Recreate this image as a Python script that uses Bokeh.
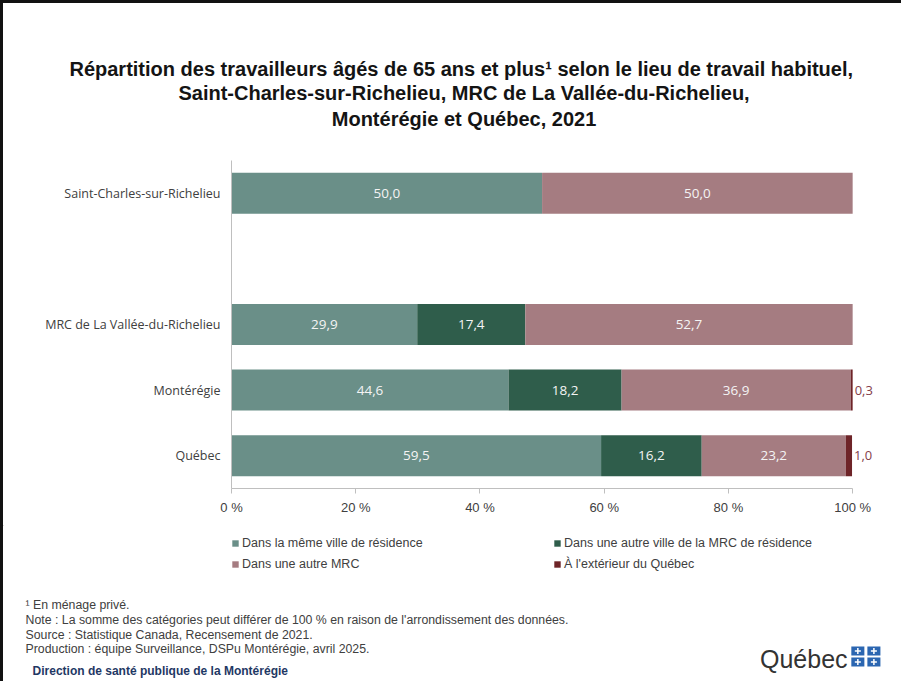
from bokeh.plotting import figure
from bokeh.models import (ColumnDataSource, FactorRange, Range1d, Label, Legend,
                          LegendItem, FixedTicker)
from bokeh.core.properties import value
from bokeh.embed import file_html
from bokeh.resources import INLINE

# ---------------- data ----------------
categories = ["Saint-Charles-sur-Richelieu", "MRC de La Vallée-du-Richelieu",
              "Montérégie", "Québec"]
spacer = " "
meme_ville = [50.0, 29.9, 44.6, 59.5]
autre_ville_mrc = [0.0, 17.4, 18.2, 16.2]
autre_mrc = [50.0, 52.7, 36.9, 23.2]
exterieur = [0.0, 0.0, 0.3, 1.0]
series_labels = ["Dans la même ville de résidence",
                 "Dans une autre ville de la MRC de résidence",
                 "Dans une autre MRC",
                 "À l'extérieur du Québec"]
x_ticks = [0, 20, 40, 60, 80, 100]
x_tick_labels = ["0 %", "20 %", "40 %", "60 %", "80 %", "100 %"]
title_lines = ["Répartition des travailleurs âgés de 65 ans et plus¹  selon le lieu de travail habituel,",
               "Saint-Charles-sur-Richelieu, MRC de La Vallée-du-Richelieu,",
               "Montérégie et Québec, 2021"]
notes = ["¹ En ménage privé.",
         "Note : La somme des catégories peut différer de 100 % en raison de l'arrondissement des données.",
         "Source : Statistique Canada, Recensement de 2021.",
         "Production : équipe Surveillance, DSPu Montérégie, avril 2025."]
direction = "Direction de santé publique de la Montérégie"
logo_text = "Québec"

# ---------------- styling ----------------
colors = ["#6a8f88", "#2f5d4b", "#a57c81", "#6e2428"]
series = [meme_ville, autre_ville_mrc, autre_mrc, exterieur]
keys = ["s0", "s1", "s2", "s3"]

W = 898
O = 3                                  # border width / page offset
TOP_END = 153                          # title band: page 3..153
FL, FR, FT, FB = 231, 849, 160, 488    # chart frame on the page (0..100 %)
X_VIEW_MAX = 104                       # room right of 100 % for outside labels
CHART_END = 525                        # chart band: page 153..525
PAGE_END = 681                         # notes band: page 525..681
BORDER = "3px solid #111"
frame_right = FL + (FR - FL) * X_VIEW_MAX / 100.0


def blank_fig(y0, y1):
    h = y1 - y0
    f = figure(width=W, height=h, x_range=Range1d(O, W + O), y_range=Range1d(y1, y0),
               output_backend="svg", toolbar_location=None, title=None,
               x_axis_location=None, y_axis_location=None,
               min_border=0, min_border_left=0, min_border_right=0,
               min_border_top=0, min_border_bottom=0)
    f.outline_line_color = None
    f.xgrid.visible = False
    f.ygrid.visible = False
    return f


# ---------------- title band ----------------
top = blank_fig(O, TOP_END)
top.styles = {"border-left": BORDER, "border-top": BORDER, "box-sizing": "content-box"}
for line, yy in zip(title_lines, [67, 91, 116]):
    top.add_layout(Label(x=462, y=yy, text=line, text_font="Liberation Sans",
                         text_font_size="20px", text_font_style="bold",
                         text_color="#141414", text_align="center",
                         text_baseline="middle"))

# ---------------- chart ----------------
factors = list(reversed([categories[0], spacer] + categories[1:]))
p = figure(width=W, height=CHART_END - TOP_END,
           y_range=FactorRange(factors=factors, range_padding=0),
           x_range=Range1d(0, X_VIEW_MAX),
           output_backend="svg", toolbar_location=None, title=None,
           min_border_left=FL - O, min_border_right=int(round(W + O - frame_right)),
           min_border_top=FT - TOP_END, min_border_bottom=CHART_END - FB)
p.styles = {"border-left": BORDER, "box-sizing": "content-box"}
p.outline_line_color = None
p.xgrid.visible = False
p.ygrid.visible = False

src = ColumnDataSource(dict(cat=categories, **{k: v for k, v in zip(keys, series)}))
renderers = p.hbar_stack(keys, y="cat", height=0.625, color=colors, source=src,
                         line_color=None)

ix, iy, it = [], [], []
ox, oy, ot = [], [], []
for j, cat in enumerate(categories):
    left = 0.0
    for i, s in enumerate(series):
        v = s[j]
        if i == 3:
            if v > 0:
                ox.append(left + v); oy.append(cat)
                ot.append(f"{v:.1f}".replace(".", ","))
        elif v > 0:
            ix.append(left + v / 2); iy.append(cat)
            it.append(f"{v:.1f}".replace(".", ","))
        left += v

p.text(x="x", y="y", text="t", source=ColumnDataSource(dict(x=ix, y=iy, t=it)),
       text_color="#f4f4f4", text_font=value("Open Sans"), text_font_size="13.5px",
       text_align="center", text_baseline="middle")
p.text(x="x", y="y", text="t", source=ColumnDataSource(dict(x=ox, y=oy, t=ot)),
       text_color="#85404a", text_font=value("Open Sans"), text_font_size="13px",
       text_align="left", text_baseline="middle", x_offset=2)

p.xaxis.bounds = (0, 100)
p.xaxis.ticker = FixedTicker(ticks=x_ticks)
p.xaxis.major_label_overrides = dict(zip(x_ticks, x_tick_labels))
p.xaxis.minor_tick_line_color = None
p.xaxis.axis_line_color = "#bfbfbf"
p.xaxis.major_tick_line_color = "#bfbfbf"
p.xaxis.major_tick_out = 5
p.xaxis.major_tick_in = 0
p.xaxis.major_label_standoff = 6
p.xaxis.major_label_text_font = "Liberation Sans"
p.xaxis.major_label_text_font_size = "13px"
p.xaxis.major_label_text_color = "#404040"

p.yaxis.axis_line_color = "#bfbfbf"
p.yaxis.major_tick_line_color = None
p.yaxis.major_tick_out = 0
p.yaxis.major_tick_in = 0
p.yaxis.minor_tick_line_color = None
p.yaxis.major_label_standoff = 11
p.yaxis.major_label_text_font = "Open Sans"
p.yaxis.major_label_text_font_size = "12.5px"
p.yaxis.major_label_text_color = "#404040"

# ---------------- legend + notes band ----------------
bot = blank_fig(CHART_END, PAGE_END)
bot.styles = {"border-left": BORDER, "box-sizing": "content-box"}
# legend swatches: zero-size bars that carry the chart's series colours
proxies = [bot.hbar(y=[0], left=[0], right=[0], height=0, fill_color=c,
                    line_color=None) for c in colors]
items = [LegendItem(label=lab, renderers=[r]) for lab, r in zip(series_labels, proxies)]
legend = Legend(items=items, orientation="horizontal", ncols=2,
                location=(231 - O, PAGE_END - 572),
                border_line_color=None, background_fill_alpha=0,
                glyph_width=8, glyph_height=8, label_height=17, spacing=4,
                padding=0, margin=0, label_standoff=3, label_width=307,
                label_text_font="Liberation Sans", label_text_font_size="12.5px",
                label_text_color="#404040")
bot.add_layout(legend, "center")

for line, yy in zip(notes, [604, 619, 634, 648]):
    bot.add_layout(Label(x=25, y=yy, text=line, text_font="Liberation Sans",
                         text_font_size="12.3px", text_color="#404040",
                         text_align="left", text_baseline="middle"))
bot.add_layout(Label(x=32, y=670, text=direction, text_font="Liberation Sans",
                     text_font_size="12px", text_font_style="bold",
                     text_color="#1f3864", text_align="left",
                     text_baseline="middle"))
bot.add_layout(Label(x=757, y=658, text=logo_text, text_font="Liberation Sans",
                     text_font_size="25px", text_color="#333333",
                     text_align="left", text_baseline="middle"))
# small flag emblem
fx = [848, 864]
fy = [646, 657]
qs = dict(left=[], right=[], top=[], bottom=[])
cs = dict(x0=[], x1=[], y0=[], y1=[])
for x0 in fx:
    for y0 in fy:
        qs["left"].append(x0); qs["right"].append(x0 + 13)
        qs["top"].append(y0); qs["bottom"].append(y0 + 9)
        cs["x0"] += [x0 + 6.5, x0 + 3.5]; cs["x1"] += [x0 + 6.5, x0 + 9.5]
        cs["y0"] += [y0 + 1.5, y0 + 4.5]; cs["y1"] += [y0 + 7.5, y0 + 4.5]
bot.quad(source=ColumnDataSource(qs), left="left", right="right", top="top",
         bottom="bottom", fill_color="#2b66b1", line_color=None)
bot.segment(source=ColumnDataSource(cs), x0="x0", x1="x1", y0="y0", y1="y1",
            line_color="white", line_width=1.5)

open("out.html", "w").write(file_html([top, p, bot], INLINE))
